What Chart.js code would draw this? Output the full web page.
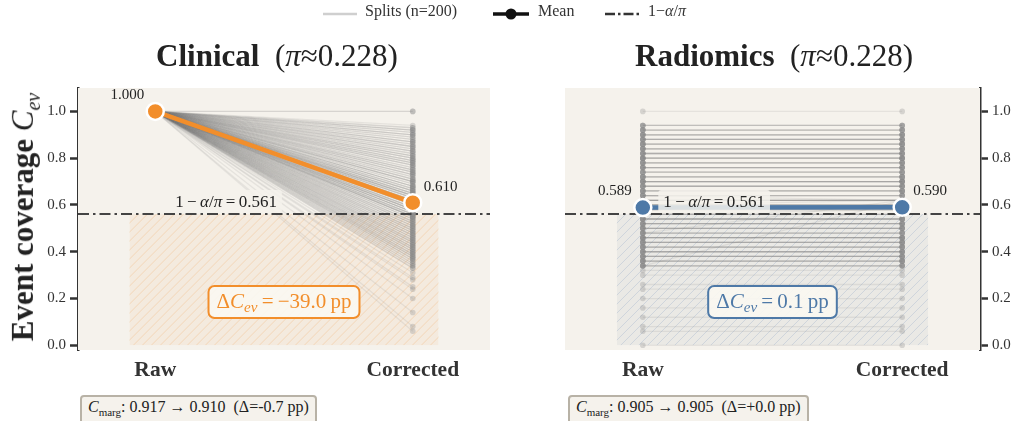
<!DOCTYPE html>
<html>
<head>
<meta charset="utf-8">
<script src="https://cdn.jsdelivr.net/npm/chart.js@4.4.1/dist/chart.umd.min.js"></script>
<style>
  body { margin: 0; background: #fff; font-family: 'Liberation Serif', 'Times New Roman', serif; color: #222; }
  #wrap { position: relative; width: 1018px; height: 421px; overflow: hidden; }
  canvas { position: absolute; top: 0; }
  .t { position: absolute; white-space: pre; }
  .title { font-size: 31px; font-weight: bold; transform: translateX(-50%); top: 38px; }
  .title span { font-weight: normal; }
  .legend { font-size: 16px; color: #333; top: 2px; }
  .marg { top: 395px; font-size: 16px; padding: 1px 6px 6px 6px; border: 2px solid #b8b2a6; border-radius: 4px; background: #f5f2ec; color: #222; }
  .marg sub { font-size: 11px; }
  #ytitle { left: 25px; top: 217px; font-size: 31px; font-weight: bold; transform: translate(-50%, -50%) rotate(-90deg); }
  #ytitle i { font-weight: normal; }
  #ytitle sub { font-size: 20px; font-weight: normal; font-style: italic; }
</style>
</head>
<body>
<div id="wrap">
  <canvas id="clinical" width="509" height="421" style="left:0"></canvas>
  <canvas id="radiomics" width="509" height="421" style="left:509px"></canvas>

  <!-- legenda -->
  <svg class="t" style="left:320px;top:3px" width="400" height="22">
    <line x1="3" y1="11" x2="37" y2="11" stroke="#cfcfcf" stroke-width="2.5"/>
    <line x1="173" y1="11" x2="209" y2="11" stroke="#111" stroke-width="3.5"/>
    <circle cx="191" cy="11" r="5.5" fill="#111"/>
    <line x1="285" y1="11" x2="320" y2="11" stroke="#333" stroke-width="2.5" stroke-dasharray="10,3,2.5,3"/>
  </svg>
  <div class="t legend" style="left:365px">Splits (n=200)</div>
  <div class="t legend" style="left:538px">Mean</div>
  <div class="t legend" style="left:648px">1−<i>α</i>/<i>π</i></div>

  <div class="t title" style="left:277px">Clinical  <span>(<i>π</i>≈0.228)</span></div>
  <div class="t title" style="left:774px">Radiomics  <span>(<i>π</i>≈0.228)</span></div>
  <div class="t" id="ytitle">Event coverage <i>C</i><sub>ev</sub></div>

  <div class="t marg" style="left:80px"><i>C</i><sub>marg</sub>: 0.917 → 0.910  (Δ=-0.7 pp)</div>
  <div class="t marg" style="left:568px"><i>C</i><sub>marg</sub>: 0.905 → 0.905  (Δ=+0.0 pp)</div>
</div>

<script>
// Dati
const categories = ['Raw', 'Corrected'];
const yTicks = [0, 0.2, 0.4, 0.6, 0.8, 1.0];
const threshold = 0.561;

// Clinical: tutte le split partono da copertura 1.000
const clinicalRaw = 1.0;
const clinicalCorrected = [
  1.00, 1.00,
  0.94, 0.93, 0.93, 0.92, 0.92, 0.91, 0.91, 0.90, 0.90, 0.89,
  0.89, 0.88, 0.88, 0.87, 0.87, 0.86, 0.86, 0.85, 0.85, 0.84,
  0.84, 0.83, 0.83, 0.82, 0.82, 0.81, 0.81, 0.80, 0.80, 0.79,
  0.79, 0.78, 0.78, 0.77, 0.77, 0.76, 0.76, 0.75, 0.75, 0.74,
  0.74, 0.73, 0.73, 0.72, 0.72, 0.71, 0.71, 0.70, 0.70, 0.69,
  0.69, 0.68, 0.68, 0.67, 0.67, 0.66, 0.66, 0.66, 0.65, 0.65,
  0.65, 0.64, 0.64, 0.64, 0.63, 0.63, 0.63, 0.62, 0.62, 0.62,
  0.61, 0.61, 0.61, 0.60, 0.60, 0.60, 0.59, 0.59, 0.59, 0.58,
  0.58, 0.58, 0.57, 0.57, 0.57, 0.56, 0.56, 0.56, 0.55, 0.55,
  0.55, 0.54, 0.54, 0.53, 0.53, 0.52, 0.52, 0.51, 0.51, 0.50,
  0.50, 0.49, 0.49, 0.48, 0.48, 0.47, 0.47, 0.46, 0.46, 0.45,
  0.45, 0.44, 0.44, 0.43, 0.43, 0.42, 0.42, 0.41, 0.41, 0.40,
  0.40, 0.39, 0.39, 0.38, 0.38, 0.37, 0.37, 0.36, 0.35, 0.34,
  0.33, 0.28, 0.25, 0.24, 0.20, 0.14, 0.08, 0.06,
  0.92, 0.90, 0.87, 0.85, 0.83, 0.81, 0.79, 0.77, 0.75, 0.73,
  0.71, 0.70, 0.68, 0.67, 0.66, 0.65, 0.64, 0.63, 0.62, 0.61,
  0.60, 0.59, 0.58, 0.57, 0.56, 0.55, 0.54, 0.53, 0.52, 0.51,
  0.50, 0.49, 0.48, 0.47, 0.46, 0.45, 0.44, 0.43, 0.42, 0.41,
  0.40, 0.39, 0.38, 0.37, 0.36, 0.35, 0.34, 0.33, 0.31, 0.29,
  0.80, 0.78, 0.74, 0.70, 0.68, 0.64, 0.62, 0.58, 0.57, 0.55
];
const clinicalMean = [1.000, 0.610];
const clinicalDelta = '−39.0';

// Radiomics: linee quasi orizzontali
const radiomicsRaw = [
  1.00,
  0.94, 0.94, 0.92, 0.92, 0.92, 0.90, 0.90, 0.88, 0.88, 0.88,
  0.86, 0.86, 0.86, 0.84, 0.84, 0.84, 0.82, 0.82, 0.82, 0.80,
  0.80, 0.80, 0.80, 0.78, 0.78, 0.76, 0.76, 0.76, 0.74, 0.74,
  0.72, 0.72, 0.72, 0.70, 0.70, 0.70, 0.68, 0.68, 0.68, 0.66,
  0.66, 0.66, 0.64, 0.64, 0.64, 0.62, 0.62, 0.62, 0.62, 0.60,
  0.60, 0.60, 0.60, 0.58, 0.58, 0.58, 0.56, 0.56, 0.56, 0.54,
  0.54, 0.54, 0.52, 0.52, 0.52, 0.50, 0.50, 0.50, 0.48, 0.48,
  0.48, 0.46, 0.46, 0.46, 0.44, 0.44, 0.44, 0.42, 0.42, 0.42,
  0.40, 0.40, 0.40, 0.38, 0.38, 0.38, 0.36, 0.36, 0.36, 0.34,
  0.34, 0.34, 0.32, 0.30, 0.26, 0.24, 0.20, 0.16, 0.12, 0.08,
  0.06, 0.00,
  0.94, 0.92, 0.90, 0.90, 0.88, 0.86, 0.84, 0.82, 0.80, 0.78,
  0.78, 0.76, 0.74, 0.72, 0.70, 0.68, 0.66, 0.64, 0.62, 0.60,
  0.58, 0.56, 0.54, 0.52, 0.50, 0.48, 0.46, 0.44, 0.42, 0.40,
  0.38, 0.36, 0.34, 0.92, 0.88, 0.86, 0.82, 0.80, 0.76, 0.74,
  0.72, 0.70, 0.68, 0.66, 0.64, 0.62, 0.60, 0.58, 0.56, 0.54,
  0.52, 0.50, 0.48, 0.46, 0.44, 0.42, 0.40, 0.38, 0.36, 0.34,
  0.90, 0.84, 0.78, 0.72, 0.66, 0.60, 0.54, 0.48, 0.42, 0.36,
  0.88, 0.82, 0.76, 0.70, 0.64, 0.58, 0.52, 0.46, 0.40, 0.34,
  0.86, 0.80, 0.74, 0.68, 0.62, 0.56, 0.50, 0.44, 0.38,
  0.94, 0.90, 0.84, 0.78, 0.70, 0.62, 0.54, 0.46
];
// poche split cambiano leggermente dopo la correzione [indice, valore corretto]
const radiomicsChanges = [[44, 0.62], [52, 0.62], [58, 0.58], [135, 0.62], [150, 0.60], [170, 0.62]];
const radiomicsMean = [0.589, 0.590];
const radiomicsDelta = '0.1';

const SERIF = "'Liberation Serif', 'Times New Roman', serif";
const BG = '#f5f2ec';

// testo con pezzi in corsivo / pedice
const drawRich = (ctx, parts, x, y, size, align, color) => {
  const fontOf = p => (p.it ? 'italic ' : '') + (p.sub ? size * 0.72 : size) + 'px ' + SERIF;
  let w = 0;
  parts.forEach(p => { ctx.font = fontOf(p); p.w = ctx.measureText(p.t).width; w += p.w; });
  let cx = align === 'center' ? x - w / 2 : (align === 'right' ? x - w : x);
  ctx.fillStyle = color;
  ctx.textBaseline = 'middle';
  ctx.textAlign = 'left';
  parts.forEach(p => {
    ctx.font = fontOf(p);
    ctx.fillText(p.t, cx, y + (p.sub ? size * 0.3 : 0));
    cx += p.w;
  });
  return w;
};

const measureRich = (ctx, parts, size) => {
  let w = 0;
  parts.forEach(p => {
    ctx.font = (p.it ? 'italic ' : '') + (p.sub ? size * 0.72 : size) + 'px ' + SERIF;
    w += ctx.measureText(p.t).width;
  });
  return w;
};

const makeChart = (id, cfg) => {
  const corrected = cfg.corrected;
  const splitSets = cfg.raw.map((r, i) => ({
    data: [{ x: 0, y: r }, { x: 1, y: corrected[i] }],
    borderColor: 'rgba(120,120,120,0.13)',
    borderWidth: 1.3,
    pointRadius: 2.8,
    pointBackgroundColor: 'rgba(140,140,140,0.3)',
    pointBorderWidth: 0,
    order: 3
  }));

  const deco = {
    id: 'deco',
    beforeDatasetsDraw(chart) {
      const { ctx, chartArea: a, scales: { x, y } } = chart;
      ctx.save();
      ctx.fillStyle = BG;
      ctx.fillRect(a.left, a.top, a.width, a.height);
      // zona tratteggiata sotto la soglia
      const x0 = x.getPixelForValue(-0.1), x1 = x.getPixelForValue(1.1);
      const yb = y.getPixelForValue(0), yt = y.getPixelForValue(threshold);
      ctx.beginPath();
      ctx.rect(x0, yt, x1 - x0, yb - yt);
      ctx.clip();
      ctx.fillStyle = cfg.hatchFill;
      ctx.fillRect(x0, yt, x1 - x0, yb - yt);
      ctx.strokeStyle = cfg.hatchLine;
      ctx.lineWidth = 1;
      const h = yb - yt;
      ctx.beginPath();
      for (let k = x0 - h; k < x1; k += 9) {
        ctx.moveTo(k, yb);
        ctx.lineTo(k + h, yt);
      }
      ctx.stroke();
      ctx.restore();
    },
    afterDatasetsDraw(chart) {
      const { ctx, scales: { x, y } } = chart;
      ctx.save();
      // etichetta soglia
      const lx = x.getPixelForValue(0.275), ly = y.getPixelForValue(threshold) - 12;
      const thParts = [{ t: '1\u2009−\u2009' }, { t: 'α', it: true }, { t: '/' }, { t: 'π', it: true }, { t: '\u2009=\u20090.561' }];
      const tw = measureRich(ctx, thParts, 17);
      ctx.fillStyle = 'rgba(245,242,236,0.85)';
      ctx.beginPath();
      ctx.roundRect(lx - tw / 2 - 5, ly - 12, tw + 10, 23, 3);
      ctx.fill();
      drawRich(ctx, thParts, lx, ly, 17, 'center', '#222');

      // valori della media
      const p0x = x.getPixelForValue(0), p0y = y.getPixelForValue(cfg.mean[0]);
      const p1x = x.getPixelForValue(1), p1y = y.getPixelForValue(cfg.mean[1]);
      drawRich(ctx, [{ t: cfg.mean[0].toFixed(3) }], p0x - 11, p0y - 16, 15, 'right', '#222');
      drawRich(ctx, [{ t: cfg.mean[1].toFixed(3) }], p1x + 11, p1y - 16, 15, 'left', '#222');

      // box delta
      const dParts = [{ t: 'Δ' }, { t: 'C', it: true }, { t: 'ev', it: true, sub: true }, { t: '\u2009=\u2009' + cfg.delta + '\u2009pp' }];
      const bx = x.getPixelForValue(0.5), by = y.getPixelForValue(0.185);
      const dw = measureRich(ctx, dParts, 21);
      ctx.beginPath();
      ctx.roundRect(bx - dw / 2 - 8, by - 16, dw + 16, 32, 6);
      ctx.fillStyle = 'rgba(250,247,241,0.92)';
      ctx.fill();
      ctx.lineWidth = 2;
      ctx.strokeStyle = cfg.color;
      ctx.stroke();
      drawRich(ctx, dParts, bx, by, 21, 'center', cfg.color);
      ctx.restore();
    }
  };

  return new Chart(document.getElementById(id), {
    type: 'line',
    data: {
      datasets: [
        {
          data: [{ x: 0, y: cfg.mean[0] }, { x: 1, y: cfg.mean[1] }],
          borderColor: cfg.color,
          borderWidth: 4.5,
          pointRadius: 8.5,
          pointBackgroundColor: cfg.color,
          pointBorderColor: '#fff',
          pointBorderWidth: 2.5,
          order: 1
        },
        {
          data: [{ x: -0.3, y: threshold }, { x: 1.3, y: threshold }],
          borderColor: '#444',
          borderWidth: 2,
          borderDash: [11, 4, 2.5, 4],
          pointRadius: 0,
          order: 2
        },
        ...splitSets
      ]
    },
    options: {
      responsive: false,
      animation: false,
      layout: { padding: cfg.padding },
      plugins: { legend: { display: false }, tooltip: { enabled: false } },
      scales: {
        x: {
          type: 'linear', min: -0.3, max: 1.3,
          afterBuildTicks: s => { s.ticks = [{ value: 0 }, { value: 1 }]; },
          afterFit: s => { s.height = 40; },
          ticks: { callback: v => categories[v], font: { family: SERIF, size: 21.5, weight: 'bold' }, color: '#333', padding: 8, maxRotation: 0, autoSkip: false },
          grid: { display: false, drawTicks: false },
          border: { display: false }
        },
        y: {
          type: 'linear', position: cfg.side, min: -0.02, max: 1.1,
          afterBuildTicks: s => { s.ticks = yTicks.map(v => ({ value: v })); },
          afterFit: s => { s.width = cfg.axisW; },
          ticks: { callback: v => v.toFixed(1), font: { family: SERIF, size: 15 }, color: '#333', padding: 4 },
          grid: { drawOnChartArea: false, drawTicks: true, tickLength: 8, tickWidth: 2.5, tickColor: '#333' },
          border: { display: true, color: '#333', width: 2.5 }
        }
      }
    },
    plugins: [deco]
  });
};

document.addEventListener('DOMContentLoaded', () => {
  makeChart('clinical', {
    raw: clinicalCorrected.map(() => clinicalRaw),
    corrected: clinicalCorrected,
    mean: clinicalMean,
    delta: clinicalDelta,
    color: '#f28e2b',
    hatchFill: 'rgba(242,142,43,0.07)',
    hatchLine: 'rgba(242,142,43,0.22)',
    side: 'left', axisW: 78,
    padding: { left: 0, right: 19, top: 88, bottom: 31 }
  });

  const radiomicsCorrected = radiomicsRaw.slice();
  radiomicsChanges.forEach(([i, v]) => { radiomicsCorrected[i] = v; });
  makeChart('radiomics', {
    raw: radiomicsRaw,
    corrected: radiomicsCorrected,
    mean: radiomicsMean,
    delta: radiomicsDelta,
    color: '#4e79a7',
    hatchFill: 'rgba(120,130,150,0.08)',
    hatchLine: 'rgba(110,140,185,0.22)',
    side: 'right', axisW: 38,
    padding: { left: 56, right: 0, top: 88, bottom: 31 }
  });
});
</script>
</body>
</html>
